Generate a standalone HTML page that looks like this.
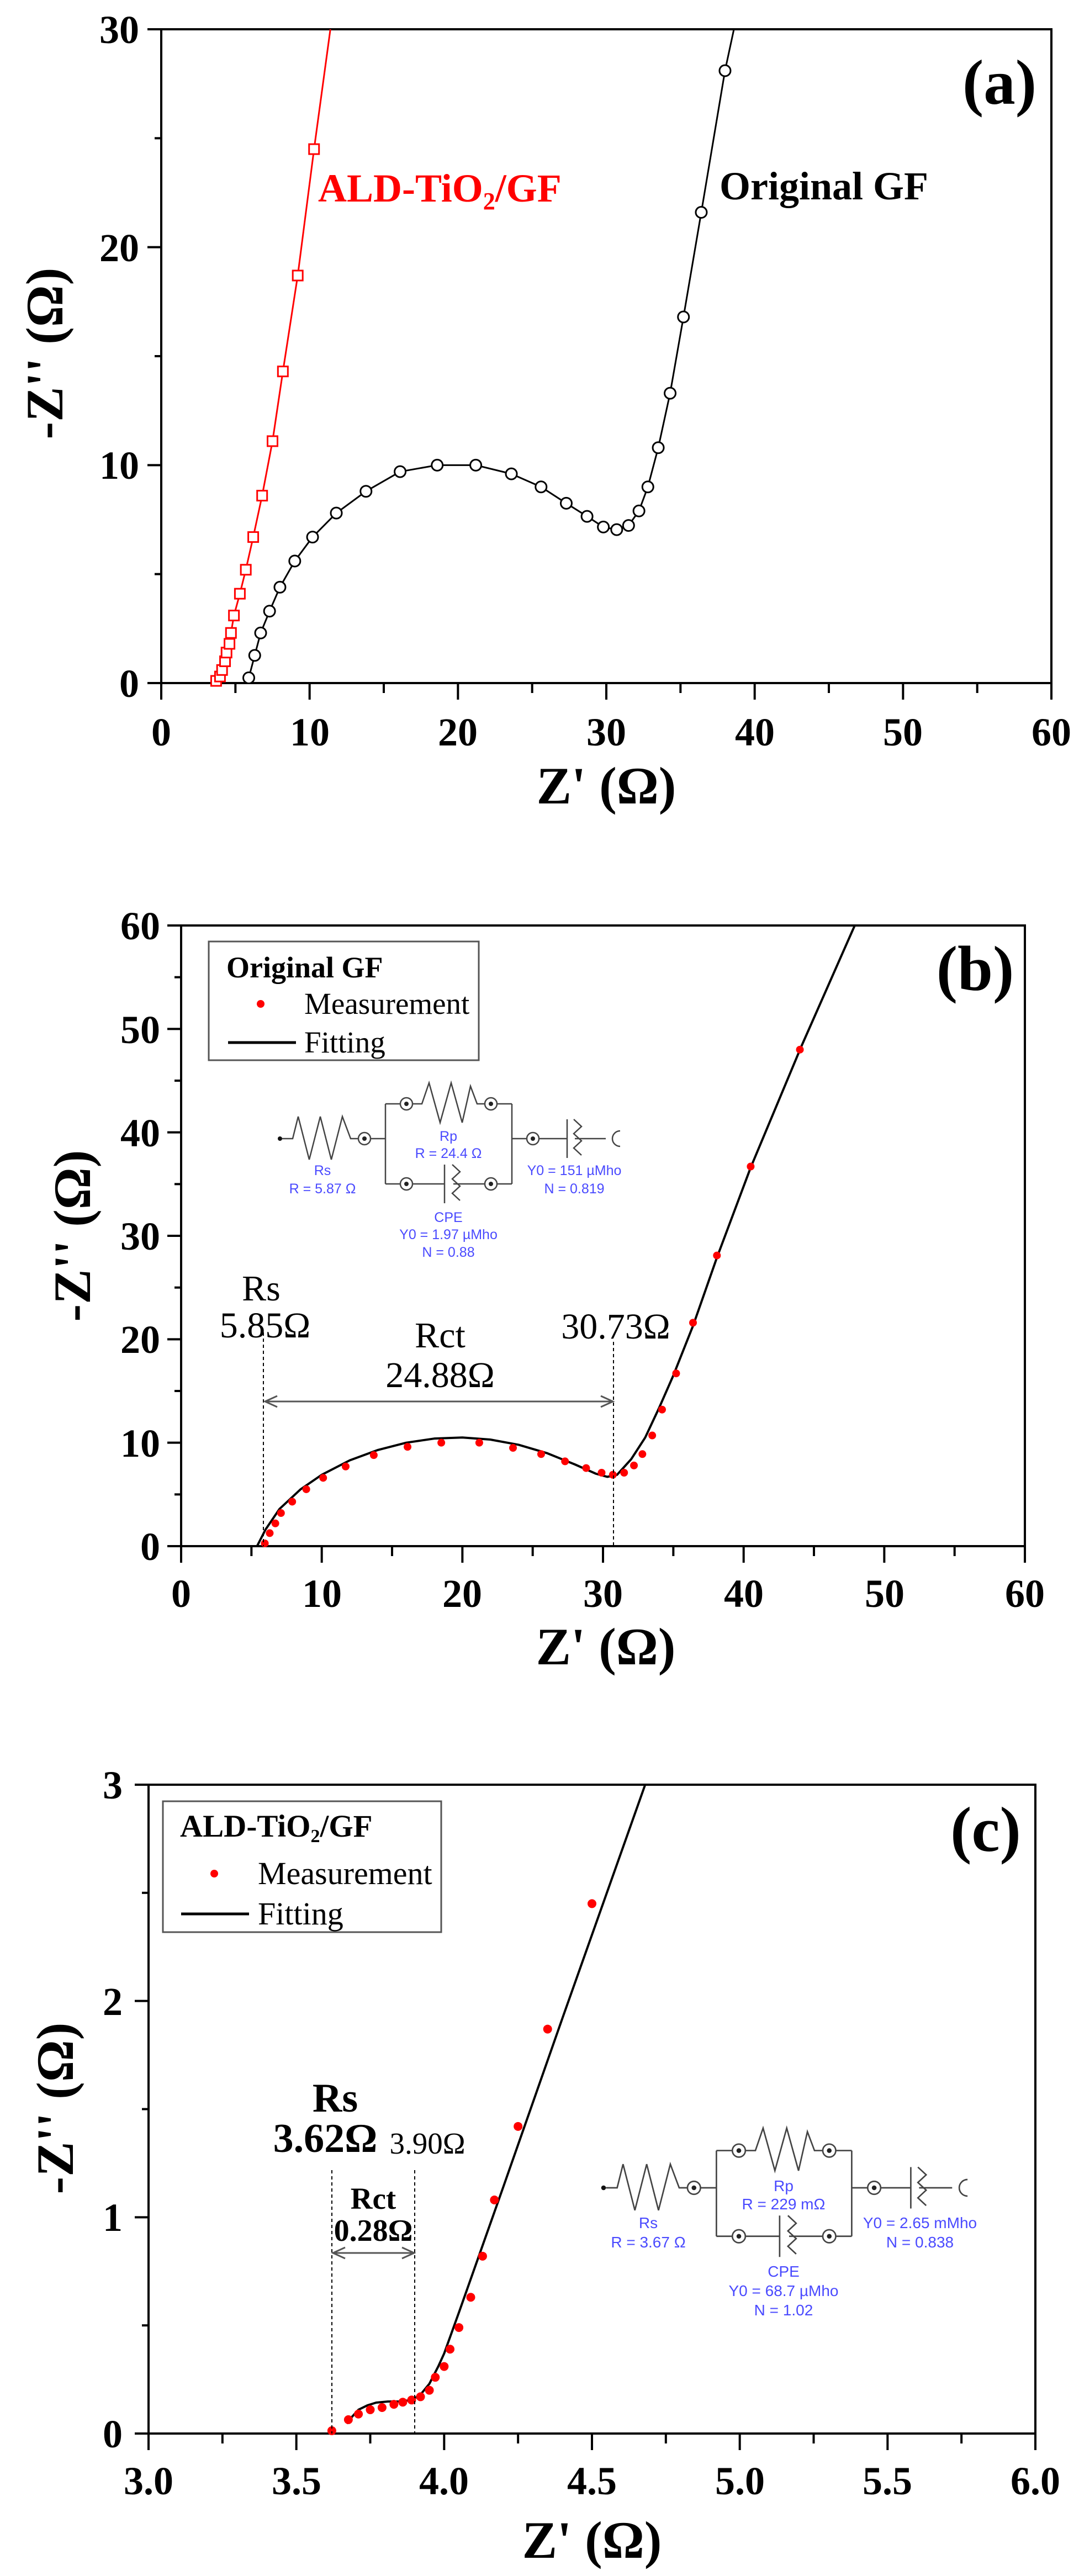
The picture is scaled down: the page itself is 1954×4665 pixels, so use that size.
<!DOCTYPE html>
<html><head><meta charset="utf-8"><style>
html,body{margin:0;padding:0;background:#fff}
svg{display:block}
.t{font-family:"Liberation Serif",serif;font-weight:bold;font-size:72px}
.ti{font-family:"Liberation Serif",serif;font-weight:bold;font-size:95px}
.c{font-family:"Liberation Sans",sans-serif;font-size:25px;fill:#4a4aff;text-anchor:middle}
</style></head><body>
<svg id="s" width="1954" height="4665" viewBox="0 0 1954 4665" xmlns="http://www.w3.org/2000/svg">
<rect width="1954" height="4665" fill="#fff"/>
<g id="g"></g>
<!-- Panel a text -->
<g class="t" text-anchor="middle">
<text x="292" y="1350">0</text><text x="561" y="1350">10</text><text x="829" y="1350">20</text><text x="1098" y="1350">30</text><text x="1367" y="1350">40</text><text x="1635" y="1350">50</text><text x="1904" y="1350">60</text>
</g>
<g class="t" text-anchor="end">
<text x="252" y="1262">0</text><text x="252" y="867">10</text><text x="252" y="473">20</text><text x="252" y="78">30</text>
</g>
<text class="ti" x="1098" y="1455" text-anchor="middle">Z' (Ω)</text>
<text class="ti" transform="translate(113,640) rotate(-90)" text-anchor="middle">-Z'' (Ω)</text>
<text class="t" x="1810" y="188" text-anchor="middle" style="font-size:115px">(a)</text>
<text class="t" x="576" y="365" fill="#f00">ALD-TiO<tspan style="font-size:44px" dy="14">2</tspan><tspan dy="-14">/GF</tspan></text>
<text class="t" x="1303" y="361">Original GF</text>

<!-- Panel b text -->
<g class="t" text-anchor="middle">
<text x="328" y="2910">0</text><text x="583" y="2910">10</text><text x="837" y="2910">20</text><text x="1092" y="2910">30</text><text x="1347" y="2910">40</text><text x="1602" y="2910">50</text><text x="1856" y="2910">60</text>
</g>
<g class="t" text-anchor="end">
<text x="290" y="2825">0</text><text x="290" y="2638">10</text><text x="290" y="2450">20</text><text x="290" y="2263">30</text><text x="290" y="2076">40</text><text x="290" y="1889">50</text><text x="290" y="1701">60</text>
</g>
<text class="ti" x="1097" y="3014" text-anchor="middle">Z' (Ω)</text>
<text class="ti" transform="translate(163,2238) rotate(-90)" text-anchor="middle">-Z'' (Ω)</text>
<text class="t" x="1766" y="1793" text-anchor="middle" style="font-size:115px">(b)</text>
<rect x="378" y="1705" width="489" height="215" fill="none" stroke="#555" stroke-width="3"/>
<text class="t" x="410" y="1770" style="font-size:54px">Original GF</text>
<circle cx="472" cy="1818" r="7" fill="#f00"/>
<text x="551" y="1836" font-family="Liberation Serif,serif" font-size="55">Measurement</text>
<line x1="413" y1="1888" x2="536" y2="1888" stroke="#000" stroke-width="5"/>
<text x="551" y="1906" font-family="Liberation Serif,serif" font-size="55">Fitting</text>
<g font-family="Liberation Serif,serif" font-size="66" text-anchor="middle">
<text x="473" y="2355">Rs</text><text x="480" y="2422">5.85Ω</text>
<text x="797" y="2440">Rct</text><text x="797" y="2512">24.88Ω</text>
<text x="1115" y="2424">30.73Ω</text>
</g>
<g class="c">
<text x="584" y="2128">Rs</text><text x="584" y="2161">R = 5.87 Ω</text>
<text x="812" y="2066">Rp</text><text x="812" y="2097">R = 24.4 Ω</text>
<text x="812" y="2213">CPE</text><text x="812" y="2244">Y0 = 1.97 µMho</text><text x="812" y="2276">N = 0.88</text>
<text x="1040" y="2128">Y0 = 151 µMho</text><text x="1040" y="2161">N = 0.819</text>
</g>

<!-- Panel c text -->
<g class="t" text-anchor="middle">
<text x="269" y="4517">3.0</text><text x="537" y="4517">3.5</text><text x="804" y="4517">4.0</text><text x="1072" y="4517">4.5</text><text x="1340" y="4517">5.0</text><text x="1607" y="4517">5.5</text><text x="1875" y="4517">6.0</text>
</g>
<g class="t" text-anchor="end">
<text x="222" y="4432">0</text><text x="222" y="4040">1</text><text x="222" y="3649">2</text><text x="222" y="3257">3</text>
</g>
<text class="ti" x="1072" y="4632" text-anchor="middle">Z' (Ω)</text>
<text class="ti" transform="translate(132,3818) rotate(-90)" text-anchor="middle">-Z'' (Ω)</text>
<text class="t" x="1785" y="3352" text-anchor="middle" style="font-size:115px">(c)</text>
<rect x="295" y="3262" width="504" height="237" fill="none" stroke="#555" stroke-width="3"/>
<text class="t" x="326" y="3326" style="font-size:57px">ALD-TiO<tspan style="font-size:34px" dy="10">2</tspan><tspan dy="-10">/GF</tspan></text>
<circle cx="388" cy="3393" r="7" fill="#f00"/>
<text x="467" y="3412" font-family="Liberation Serif,serif" font-size="58">Measurement</text>
<line x1="328" y1="3466" x2="451" y2="3466" stroke="#000" stroke-width="5"/>
<text x="467" y="3485" font-family="Liberation Serif,serif" font-size="58">Fitting</text>
<g font-family="Liberation Serif,serif" text-anchor="middle">
<text class="t" x="607" y="3824" style="font-size:74px">Rs</text>
<text class="t" x="589" y="3897" style="font-size:74px">3.62Ω</text>
<text x="774" y="3900" font-size="55">3.90Ω</text>
<text class="t" x="676" y="4000" style="font-size:55px">Rct</text>
<text class="t" x="676" y="4058" style="font-size:56px">0.28Ω</text>
</g>
<g class="c" style="font-size:28px">
<text x="1174" y="4035">Rs</text><text x="1174" y="4070">R = 3.67 Ω</text>
<text x="1419" y="3968">Rp</text><text x="1419" y="4001">R = 229 mΩ</text>
<text x="1419" y="4123">CPE</text><text x="1419" y="4158">Y0 = 68.7 µMho</text><text x="1419" y="4193">N = 1.02</text>
<text x="1666" y="4035">Y0 = 2.65 mMho</text><text x="1666" y="4070">N = 0.838</text>
</g>
</svg>
<script>
var NS="http://www.w3.org/2000/svg",G=document.getElementById("g");
function el(n,a,p){var e=document.createElementNS(NS,n);for(var k in a)e.setAttribute(k,a[k]);(p||G).appendChild(e);return e;}
function frame(L,T,R,B,xt,yt){
 el("rect",{x:L,y:T,width:R-L,height:B-T,fill:"none",stroke:"#000","stroke-width":4});
 xt.forEach(function(t){el("line",{x1:t[0],y1:B,x2:t[0],y2:B+(t[1]?30:18),stroke:"#000","stroke-width":4});});
 yt.forEach(function(t){el("line",{x1:L,y1:t[0],x2:L-(t[1]?25:12),y2:t[0],stroke:"#000","stroke-width":4});});
}
function ticks(a,b,n,f){var r=[];for(var i=0;i<=n;i++){r.push([f(a+(b-a)*i/n),i%2==0]);}return r;}
function poly(pts,X,Y,col,w){el("polyline",{points:pts.map(function(p){return X(p[0])+","+Y(p[1])}).join(" "),fill:"none",stroke:col,"stroke-width":w,"stroke-linejoin":"round"});}
// panel a
var Xa=function(x){return 292+26.867*x},Ya=function(y){return 1237-39.467*y};
frame(292,53,1904,1237,ticks(0,60,12,Xa),ticks(0,30,6,Ya));
var og=[[5.9,0.24],[6.3,1.27],[6.7,2.3],[7.3,3.3],[8.0,4.4],[9.0,5.6],[10.2,6.7],[11.8,7.8],[13.8,8.8],[16.1,9.7],[18.6,10.0],[21.2,10.0],[23.6,9.6],[25.6,9.0],[27.3,8.25],[28.7,7.65],[29.8,7.16],[30.7,7.04],[31.5,7.23],[32.2,7.9],[32.8,9.0],[33.5,10.8],[34.3,13.3],[35.2,16.8],[36.4,21.6],[38.0,28.1]];
poly(og.concat([[38.6,30]]),Xa,Ya,"#000",3);
og.forEach(function(p){el("circle",{cx:Xa(p[0]),cy:Ya(p[1]),r:10,fill:"#fff",stroke:"#000","stroke-width":3});});
var ald=[[3.45,0],[3.7,0.1],[3.96,0.3],[4.1,0.6],[4.3,1.0],[4.4,1.4],[4.6,1.8],[4.7,2.3],[4.9,3.1],[5.3,4.1],[5.7,5.2],[6.2,6.7],[6.8,8.6],[7.5,11.1],[8.2,14.3],[9.2,18.7],[10.3,24.5]];
poly(ald.concat([[11.4,30]]),Xa,Ya,"#f00",3);
ald.slice(1).forEach(function(p){el("rect",{x:Xa(p[0])-9,y:Ya(p[1])-9,width:18,height:18,fill:"#fff",stroke:"#f00","stroke-width":3});});
// panel b
var Xb=function(x){return 328+25.467*x},Yb=function(y){return 2800-18.733*y};
frame(328,1676,1856,2800,ticks(0,60,12,Xb),ticks(0,60,12,Yb));
var fitb=[[5.4,0],[6,1.6],[7,3.6],[8.5,5.5],[10,6.9],[12,8.3],[14,9.3],[16,10.0],[18,10.4],[20,10.5],[22,10.3],[24,9.8],[26,9.0],[28,7.9],[29.5,7.0],[30.3,6.7],[31,6.9],[32,8.4],[33,10.5],[34,13.4],[35,16.5],[36.4,21.3],[38.1,27.9],[40.5,36.6],[44.1,48.3],[47.9,60]];
poly(fitb,Xb,Yb,"#000",4);
[[5.95,0.27],[6.3,1.26],[6.7,2.2],[7.1,3.2],[7.9,4.3],[8.9,5.5],[10.1,6.6],[11.7,7.7],[13.7,8.8],[16.1,9.6],[18.5,10.0],[21.2,10.0],[23.6,9.5],[25.6,8.9],[27.3,8.2],[28.8,7.55],[29.9,7.1],[30.7,6.9],[31.5,7.1],[32.2,7.8],[32.8,8.9],[33.5,10.7],[34.2,13.2],[35.2,16.7],[36.4,21.6],[38.1,28.1],[40.5,36.7],[44.0,48.0]].forEach(function(p){el("circle",{cx:Xb(p[0]),cy:Yb(p[1]),r:7,fill:"#f00"});});
function dash(x,y1,y2){el("line",{x1:x,y1:y1,x2:x,y2:y2,stroke:"#000","stroke-width":2,"stroke-dasharray":"6,5"});}
function arrow(x1,x2,y){el("line",{x1:x1,y1:y,x2:x2,y2:y,stroke:"#555","stroke-width":3});
 el("polyline",{points:(x1+22)+","+(y-10)+" "+x1+","+y+" "+(x1+22)+","+(y+10),fill:"none",stroke:"#555","stroke-width":3});
 el("polyline",{points:(x2-22)+","+(y-10)+" "+x2+","+y+" "+(x2-22)+","+(y+10),fill:"none",stroke:"#555","stroke-width":3});}
dash(477,2413,2800);dash(1111,2430,2800);arrow(480,1110,2538);
// circuit
function circuit(tx,ty,s){
 var g=el("g",{transform:"translate("+tx+","+ty+") scale("+s+")",fill:"none",stroke:"#444","stroke-width":2.5});
 function L(pts){el("polyline",{points:pts.map(function(p){return p.join(",")}).join(" "),fill:"none"},g);}
 function node(x,y){el("circle",{cx:x,cy:y,r:11,fill:"#fff"},g);el("circle",{cx:x,cy:y,r:4,fill:"#222",stroke:"none"},g);}
 el("circle",{cx:0,cy:0,r:4,fill:"#111",stroke:"none"},g);
 L([[4,0],[23,0],[33,-40],[53,38],[73,-40],[93,38],[113,-40],[128,0],[142,0]]);
 L([[164,0],[191,0]]);node(153,0);
 L([[191,-63],[191,82]]);L([[420,-63],[420,82]]);
 L([[191,-63],[218,-63]]);L([[240,-63],[257,-63],[270,-101],[290,-29],[310,-101],[330,-29],[345,-95],[357,-63],[371,-63]]);L([[393,-63],[420,-63]]);
 node(229,-63);node(382,-63);
 L([[191,82],[218,82]]);L([[240,82],[298,82]]);L([[298,47],[298,117]]);
 L([[312,47],[326,60],[312,73],[326,86],[312,99],[326,112]]);L([[314,82],[371,82]]);L([[393,82],[420,82]]);
 node(229,82);node(382,82);
 L([[420,0],[447,0]]);node(458,0);L([[469,0],[520,0]]);L([[520,-35],[520,35]]);
 L([[532,-35],[546,-22],[532,-9],[546,4],[532,17],[546,30]]);L([[534,0],[590,0]]);
 el("path",{d:"M616,-14 A14,14 0 1 0 616,14"},g);
}
circuit(507,2062,1);
// panel c
var Xc=function(x){return 269+535.33*(x-3)},Yc=function(y){return 4407-391.67*y};
frame(269,3232,1875,4407,ticks(3,6,12,Xc),ticks(0,3,6,Yc));
poly([[3.67,0.046],[3.69,0.08],[3.71,0.11],[3.74,0.13],[3.77,0.143],[3.81,0.148],[3.85,0.148],[3.89,0.155],[3.92,0.18],[3.95,0.23],[3.98,0.31],[4.0,0.37],[4.05,0.56],[4.2,1.14],[4.4,1.92],[4.68,3.0]],Xc,Yc,"#000",4);
[[3.62,0.013],[3.676,0.064],[3.71,0.09],[3.75,0.11],[3.79,0.12],[3.83,0.135],[3.86,0.145],[3.89,0.155],[3.92,0.17],[3.95,0.2],[3.97,0.26],[4.0,0.31],[4.02,0.39],[4.05,0.49],[4.09,0.63],[4.13,0.82],[4.17,1.08],[4.25,1.42],[4.35,1.87],[4.50,2.45]].forEach(function(p){el("circle",{cx:Xc(p[0]),cy:Yc(p[1]),r:8,fill:"#f00"});});
dash(601,3930,4407);dash(751,3930,4407);arrow(603,750,4080);
circuit(1093,3962,1.07);
</script>
</body></html>
